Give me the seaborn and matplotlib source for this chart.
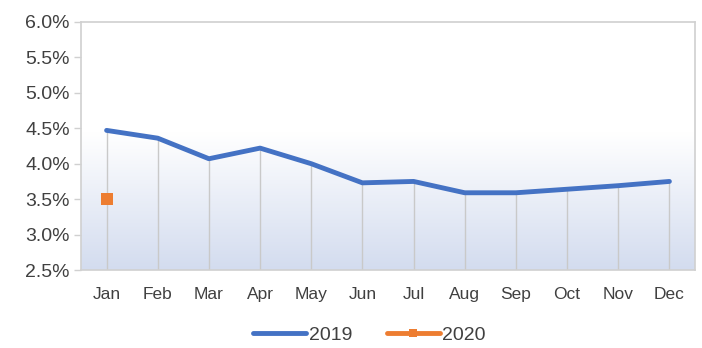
import numpy as np
import pandas as pd
import matplotlib
matplotlib.use("Agg")
import matplotlib.pyplot as plt
from matplotlib.colors import LinearSegmentedColormap
from matplotlib.ticker import FuncFormatter
import seaborn as sns

# data
months = ['Jan', 'Feb', 'Mar', 'Apr', 'May', 'Jun',
          'Jul', 'Aug', 'Sep', 'Oct', 'Nov', 'Dec']
rate_2019 = [4.47, 4.36, 4.07, 4.22, 4.00, 3.73,
             3.75, 3.59, 3.59, 3.64, 3.69, 3.75]
months_2020 = ['Jan']
rate_2020 = [3.50]
y_ticks = [2.5, 3.0, 3.5, 4.0, 4.5, 5.0, 5.5, 6.0]

df19 = pd.DataFrame({'month': months, 'rate': rate_2019})
df20 = pd.DataFrame({'month': months_2020, 'rate': rate_2020})

sns.set_style('white')
plt.rcParams['font.family'] = ['Liberation Sans Narrow', 'Liberation Sans', 'DejaVu Sans']

fig = plt.figure(figsize=(7.02, 3.48), dpi=100)
ax = fig.add_axes([0.1154, 0.224, 0.8746, 0.713])

blue = '#4472C4'
orange = '#ED7D31'
grey = '#C9C9C9'

# gradient background (white on top, pale blue at bottom)
cmap = LinearSegmentedColormap.from_list('bg', [(0, '#D3DCEF'), (0.55, '#FFFFFF'), (1, '#FFFFFF')])
grad = np.linspace(0, 1, 256).reshape(-1, 1)
ax.imshow(grad, cmap=cmap, aspect='auto', origin='lower',
          extent=[-0.5, 11.5, 2.5, 6.0], zorder=0)

# drop lines
ax.vlines(range(len(months)), 2.5, rate_2019, color=grey, lw=1, zorder=1)

sns.lineplot(data=df19, x='month', y='rate', color=blue, lw=3.5,
             label='2019', ax=ax, zorder=3)
sns.lineplot(data=df20, x='month', y='rate', color=orange, lw=3.5,
             marker='s', markersize=8, markeredgewidth=0, label='2020',
             ax=ax, zorder=4)

ax.set_xlim(-0.5, 11.5)
ax.set_ylim(2.5, 6.0)
ax.set_yticks(y_ticks)
ax.yaxis.set_major_formatter(FuncFormatter(lambda v, p: f'{v:.1f}%'))
ax.set_xlabel('')
ax.set_ylabel('')

for s in ax.spines.values():
    s.set_color('#D0D0D0')
    s.set_linewidth(1.2)

ax.tick_params(axis='y', left=True, length=5, width=1, color='#D0D0D0',
               labelsize=14, labelcolor='#404040', pad=3)
ax.tick_params(axis='x', bottom=False, labelsize=12.5, labelcolor='#404040', pad=9)

leg = ax.legend(loc='center', bbox_to_anchor=(0.47, -0.262), ncol=2, frameon=False,
                fontsize=14, handlelength=2.7, columnspacing=1.8, handletextpad=0.15,
                labelcolor='#404040')
for h in leg.legend_handles:
    h.set_markersize(6)

fig.savefig('out.png', dpi=100)
